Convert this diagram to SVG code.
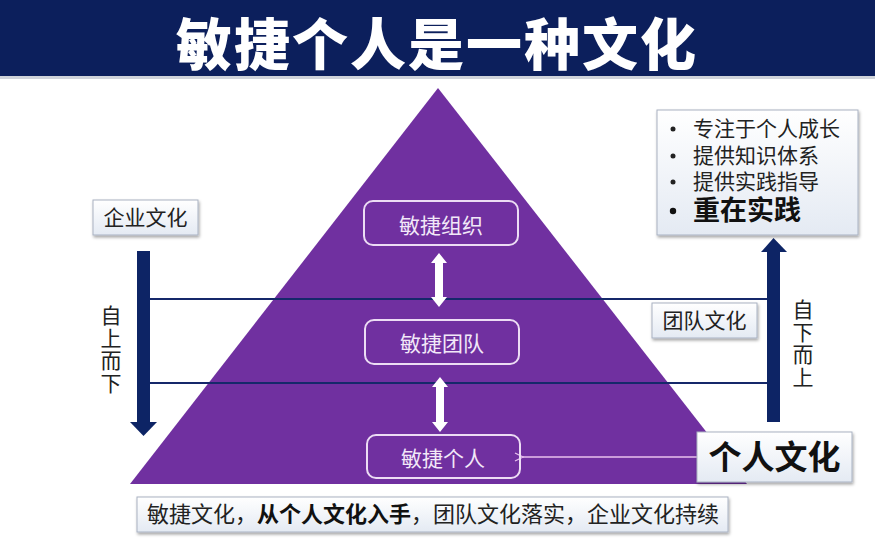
<svg xmlns="http://www.w3.org/2000/svg" width="875" height="546" viewBox="0 0 875 546">
<defs>
<linearGradient id="boxg" x1="0" y1="0" x2="0" y2="1">
<stop offset="0" stop-color="#ffffff"/>
<stop offset="1" stop-color="#e4eaf3"/>
</linearGradient>
<filter id="sh" x="-10%" y="-20%" width="120%" height="150%">
<feDropShadow dx="1" dy="2" stdDeviation="1.5" flood-color="#000" flood-opacity="0.35"/>
</filter>
<marker id="open" viewBox="0 0 10 10" refX="1" refY="5" markerWidth="10" markerHeight="10" markerUnits="userSpaceOnUse" orient="auto-start-reverse">
<path d="M9,1 L1,5 L9,9" fill="none" stroke="#e8c0ee" stroke-width="1.3"/>
</marker>
<style>
text{font-family:"Noto Sans CJK SC","Noto Sans",sans-serif;}
.lbl{font-size:21px;fill:#222;}
.inner{font-size:21px;fill:#f2e8f8;text-anchor:middle;}
.ibox{fill:none;stroke:#ecdcf4;stroke-width:2;}
.cbox{fill:url(#boxg);stroke:#a9b2c2;stroke-width:1;filter:url(#sh);}
.navy{fill:#0d2465;}
.hl{stroke:#15286a;stroke-width:2;}
.vt{font-size:21px;fill:#222;writing-mode:vertical-rl;letter-spacing:1.5px;}
</style>
</defs>
<rect width="875" height="546" fill="#ffffff"/>
<g id="title">
<rect x="0" y="0" width="875" height="76" fill="#0c1f5c"/>
<rect x="0" y="76" width="875" height="3" fill="#cfd3da"/>
<text x="437" y="65" text-anchor="middle" font-size="56" font-weight="900" fill="#ffffff" letter-spacing="2">敏捷个人是一种文化</text>
</g>
<g id="pyramid">
<polygon points="438,88 130,484 747,484" fill="#7030a0"/>
</g>
<g id="connectors">
<line class="hl" x1="150" y1="299" x2="767" y2="299"/>
<line class="hl" x1="150" y1="383" x2="767" y2="383"/>
<rect class="navy" x="137" y="251" width="13" height="172"/>
<polygon class="navy" points="130,422 157,422 143.5,436"/>
<rect class="navy" x="767" y="251" width="13" height="171"/>
<polygon class="navy" points="761,252 787,252 773.5,238"/>
<polygon fill="#ffffff" points="439,253 447,263 443,263 443,297 447,297 439,307 431,297 435,297 435,263 431,263"/>
<polygon fill="#ffffff" points="440,377 448,387 444,387 444,422 448,422 440,432 432,422 436,422 436,387 432,387"/>
<line x1="697" y1="457" x2="523" y2="457" stroke="#e8c0ee" stroke-width="1.3" marker-end="url(#open)"/>
</g>
<g id="org">
<rect class="ibox" x="364" y="201" width="154" height="44" rx="9"/>
<text class="inner" x="441" y="233">敏捷组织</text>
</g>
<g id="team">
<rect class="ibox" x="365" y="320" width="154" height="44" rx="9"/>
<text class="inner" x="442" y="351">敏捷团队</text>
</g>
<g id="individual">
<rect class="ibox" x="367" y="435" width="153" height="43" rx="9"/>
<text class="inner" x="443" y="466">敏捷个人</text>
</g>
<g id="enterprise-culture">
<rect class="cbox" x="93" y="200" width="105" height="35"/>
<text class="lbl" x="145.5" y="225" text-anchor="middle">企业文化</text>
</g>
<g id="team-culture">
<rect class="cbox" x="652" y="303" width="105" height="35"/>
<text class="lbl" x="704.5" y="328" text-anchor="middle">团队文化</text>
</g>
<g id="personal-culture">
<rect class="cbox" x="697" y="432" width="155" height="50"/>
<text x="774.5" y="469" text-anchor="middle" font-size="33" font-weight="700" fill="#111">个人文化</text>
</g>
<g id="top-down">
<text class="vt" x="111" y="305">自上而下</text>
</g>
<g id="bottom-up">
<text class="vt" x="803" y="299">自下而上</text>
</g>
<g id="points">
<rect class="cbox" x="657" y="110" width="201" height="125"/>
<circle cx="673" cy="129" r="2.5" fill="#222"/>
<circle cx="673" cy="156" r="2.5" fill="#222"/>
<circle cx="673" cy="182" r="2.5" fill="#222"/>
<circle cx="673" cy="211" r="3.2" fill="#111"/>
<text class="lbl"><tspan x="693" y="136">专注于个人成长</tspan><tspan x="693" y="163">提供知识体系</tspan><tspan x="693" y="189">提供实践指导</tspan><tspan x="693" y="220" font-size="27" font-weight="700" fill="#111">重在实践</tspan></text>
</g>
<g id="summary">
<rect class="cbox" x="137" y="497" width="591" height="35"/>
<text x="147" y="522" font-size="22" fill="#222">敏捷文化，<tspan font-weight="700" fill="#111">从个人文化入手</tspan>，团队文化落实，企业文化持续</text>
</g>
</svg>
